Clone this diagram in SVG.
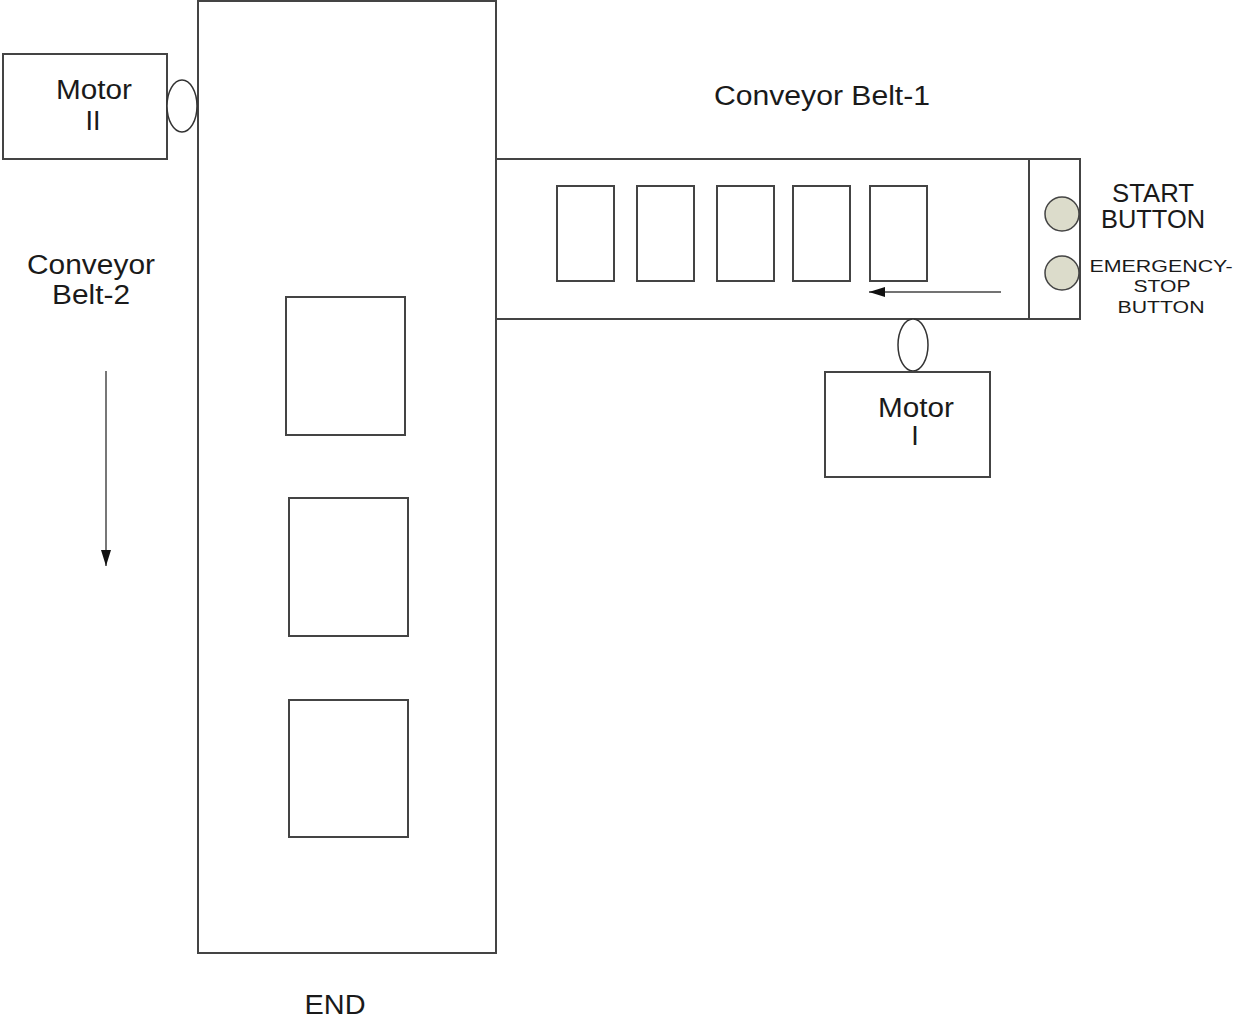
<svg xmlns="http://www.w3.org/2000/svg" width="1234" height="1021" viewBox="0 0 1234 1021">
  <style>
    .box { fill: #ffffff; stroke: #444444; stroke-width: 2; }
    .line { fill: none; stroke: #444444; stroke-width: 2; }
    .pulley { fill: #ffffff; stroke: #333333; stroke-width: 1.5; }
    .btn { fill: #dcdccb; stroke: #444444; stroke-width: 1.5; }
    .lbl { font-family: "Liberation Sans", Arial, sans-serif; font-size: 27px; fill: #1a1a1a; text-anchor: middle; }
    .mid { font-family: "Liberation Sans", Arial, sans-serif; font-size: 25px; fill: #1a1a1a; text-anchor: middle; }
    .sm { font-family: "Liberation Sans", Arial, sans-serif; font-size: 16px; fill: #1a1a1a; text-anchor: middle; }
  </style>
  <defs>
    <marker id="arrowL" viewBox="0 0 16 10" refX="16" refY="5" markerWidth="16" markerHeight="10" markerUnits="userSpaceOnUse" orient="auto">
      <path d="M0,0 L16,5 L0,10 z" fill="#111111"/>
    </marker>
  </defs>

  <!-- Conveyor belt 2 (vertical) -->
  <g id="belt2">
    <rect class="box" x="198" y="1" width="298" height="952"/>
    <rect class="box" x="286" y="297" width="119" height="138"/>
    <rect class="box" x="289" y="498" width="119" height="138"/>
    <rect class="box" x="289" y="700" width="119" height="137"/>
  </g>

  <!-- Conveyor belt 1 (horizontal) -->
  <g id="belt1">
    <rect class="box" x="496" y="159" width="584" height="160"/>
    <line class="line" x1="1029" y1="159" x2="1029" y2="319"/>
    <rect class="box" x="557" y="186" width="57" height="95"/>
    <rect class="box" x="637" y="186" width="57" height="95"/>
    <rect class="box" x="717" y="186" width="57" height="95"/>
    <rect class="box" x="793" y="186" width="57" height="95"/>
    <rect class="box" x="870" y="186" width="57" height="95"/>
  </g>

  <!-- Motor II with pulley -->
  <g id="motor2">
    <rect class="box" x="3" y="54" width="164" height="105"/>
    <ellipse class="pulley" cx="182" cy="106" rx="15" ry="26"/>
    <text class="lbl" x="94" y="99" textLength="76" lengthAdjust="spacingAndGlyphs">Motor</text>
    <text class="lbl" x="93" y="130">II</text>
  </g>

  <!-- Motor I with pulley -->
  <g id="motor1">
    <ellipse class="pulley" cx="913" cy="345" rx="15" ry="26"/>
    <rect class="box" x="825" y="372" width="165" height="105"/>
    <text class="lbl" x="916" y="417" textLength="76" lengthAdjust="spacingAndGlyphs">Motor</text>
    <text class="lbl" x="915" y="445">I</text>
  </g>

  <!-- Control buttons -->
  <g id="start-button">
    <circle class="btn" cx="1062" cy="214" r="17"/>
    <text class="mid" x="1153" y="202" textLength="82" lengthAdjust="spacingAndGlyphs">START</text>
    <text class="mid" x="1153" y="228" textLength="104" lengthAdjust="spacingAndGlyphs">BUTTON</text>
  </g>
  <g id="stop-button">
    <circle class="btn" cx="1062" cy="273" r="17"/>
    <text class="sm" x="1161" y="272" textLength="143" lengthAdjust="spacingAndGlyphs">EMERGENCY-</text>
    <text class="sm" x="1162" y="292" textLength="57" lengthAdjust="spacingAndGlyphs">STOP</text>
    <text class="sm" x="1161" y="313" textLength="87" lengthAdjust="spacingAndGlyphs">BUTTON</text>
  </g>

  <!-- Labels -->
  <g id="labels">
    <text class="lbl" x="822" y="105" textLength="216" lengthAdjust="spacingAndGlyphs">Conveyor Belt-1</text>
    <text class="lbl" x="91" y="274" textLength="128" lengthAdjust="spacingAndGlyphs">Conveyor</text>
    <text class="lbl" x="91" y="304" textLength="78" lengthAdjust="spacingAndGlyphs">Belt-2</text>
    <text class="lbl" x="335" y="1014" textLength="61" lengthAdjust="spacingAndGlyphs">END</text>
  </g>

  <!-- Direction arrows -->
  <g id="connectors">
    <line class="line" x1="1001" y1="292" x2="869" y2="292" style="stroke-width:1.5" marker-end="url(#arrowL)"/>
    <line class="line" x1="106" y1="371" x2="106" y2="566" style="stroke:#777777" marker-end="url(#arrowL)"/>
  </g>
</svg>
